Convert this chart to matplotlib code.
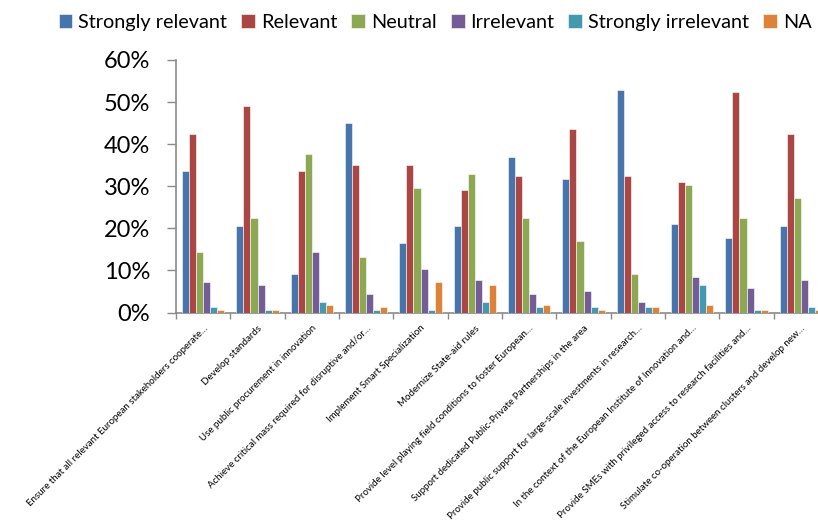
import numpy as np
import matplotlib
matplotlib.use("Agg")
import matplotlib.pyplot as plt

# survey answers per measure (share of respondents, %)
categories = [
    "Ensure that all relevant European stakeholders cooperate…",
    "Develop standards",
    "Use public procurement in innovation",
    "Achieve critical mass required for disruptive and/or…",
    "Implement Smart Specialization",
    "Modernize State-aid rules",
    "Provide level playing field conditions to foster European…",
    "Support dedicated Public-Private Partnerships in the area",
    "Provide public support for large-scale investments in research…",
    "In the context of the European Institute of Innovation and…",
    "Provide SMEs with privileged access to research facilities and…",
    "Stimulate co-operation between clusters and develop new…",
]
series_names = ["Strongly relevant", "Relevant", "Neutral", "Irrelevant",
                "Strongly irrelevant", "NA"]
strongly_relevant = [33.7, 20.5, 9.1, 45.0, 16.4, 20.5, 37.0, 31.7, 52.9, 21.0, 17.7, 20.5]
relevant = [42.3, 49.0, 33.7, 35.0, 35.0, 29.0, 32.4, 43.7, 32.4, 31.0, 52.3, 42.3]
neutral = [14.4, 22.4, 37.7, 13.1, 29.7, 33.0, 22.4, 17.1, 9.1, 30.4, 22.4, 27.1]
irrelevant = [7.2, 6.5, 14.4, 4.5, 10.4, 7.8, 4.5, 5.1, 2.5, 8.5, 5.8, 7.8]
strongly_irrelevant = [1.2, 0.5, 2.5, 0.5, 0.5, 2.5, 1.2, 1.2, 1.2, 6.5, 0.5, 1.2]
na = [0.5, 0.5, 1.8, 1.2, 7.2, 6.5, 1.8, 0.5, 1.2, 1.8, 0.5, 0.5]
yticks = [0, 10, 20, 30, 40, 50, 60]

COLORS = ["#4774AA", "#AA4644", "#8CA852", "#745C94", "#4299B0", "#DC8239"]
AXIS = "#8a8a8a"
FONT = ["Lato", "DejaVu Sans"]

plt.rcParams["font.family"] = FONT

fig = plt.figure(figsize=(8.18, 5.26), dpi=100, facecolor="white")
ax = fig.add_axes([176 / 818, 1 - 312.5 / 526, 652 / 818, 252.5 / 526])

data = [strongly_relevant, relevant, neutral, irrelevant, strongly_irrelevant, na]
x = np.arange(len(categories))
w = 0.13
for i, (name, vals) in enumerate(zip(series_names, data)):
    ax.bar(x + (i - 2.5) * w, vals, w, color=COLORS[i], label=name,
           edgecolor="white", linewidth=0.4, zorder=3)

ax.set_xlim(-0.5, len(categories) - 0.5)
ax.set_ylim(0, 60)
ax.set_yticks(yticks)
ax.set_yticklabels([f"{v}%" for v in yticks], fontsize=17, color="#000000")
ax.tick_params(axis="y", length=6.5, color=AXIS, width=1, pad=12)

# category boundaries carry the tick marks, labels sit at group centres
ax.set_xticks(np.arange(len(categories) + 1) - 0.5)
ax.set_xticklabels([])
ax.set_xticks(x, minor=True)
ax.set_xticklabels(categories, minor=True, rotation=45, ha="right",
                   rotation_mode="anchor", fontsize=7.0, color="#000000")
ax.tick_params(axis="x", which="major", length=4, color=AXIS, width=1)
ax.tick_params(axis="x", which="minor", length=0, pad=8)

for s in ("top", "right"):
    ax.spines[s].set_visible(False)
for s in ("left", "bottom"):
    ax.spines[s].set_color(AXIS)
    ax.spines[s].set_linewidth(1.2)

fig.legend(loc="upper center", bbox_to_anchor=(0.532, 1.008), ncol=6,
           frameon=False, fontsize=14.3, handlelength=0.7, handleheight=0.7,
           handletextpad=0.3, columnspacing=0.7)

fig.savefig("out.png", dpi=100, facecolor="white")
